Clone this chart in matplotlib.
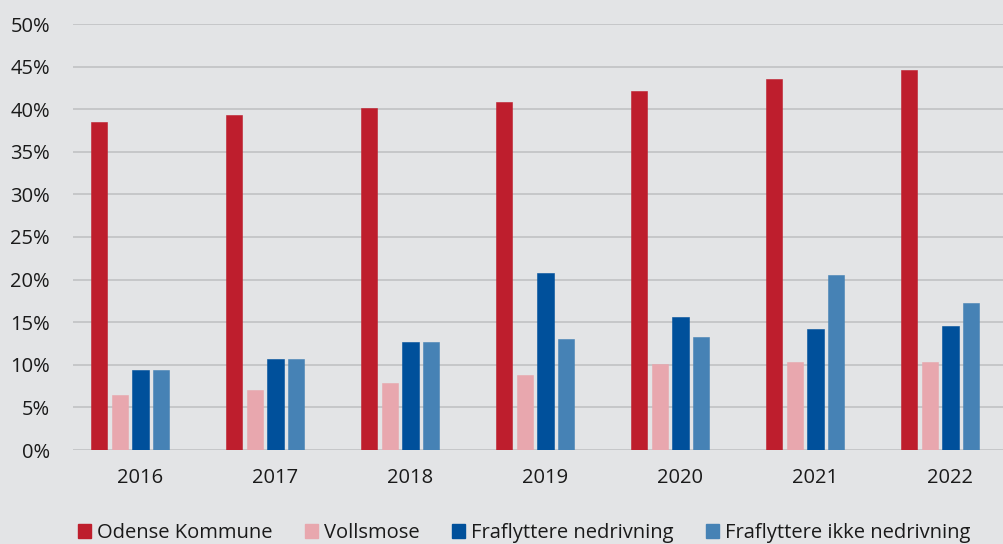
import matplotlib

matplotlib.use("Agg")
import matplotlib.pyplot as plt
import numpy as np
from matplotlib.patches import Patch

plt.rcParams["font.family"] = ["Open Sans", "DejaVu Sans"]

years = ["2016", "2017", "2018", "2019", "2020", "2021", "2022"]
series_names = [
    "Odense Kommune",
    "Vollsmose",
    "Fraflyttere nedrivning",
    "Fraflyttere ikke nedrivning",
]
odense = [38.5, 39.3, 40.1, 40.9, 42.1, 43.5, 44.6]
vollsmose = [6.45, 7.1, 7.9, 8.8, 10.05, 10.35, 10.3]
nedrivning = [9.4, 10.65, 12.7, 20.75, 15.65, 14.25, 14.5]
ikke_nedrivning = [9.4, 10.65, 12.7, 13.05, 13.3, 20.5, 17.2]

colors = ["#be1e2d", "#e8a7ae", "#00509b", "#4682b5"]
bg = "#e3e4e6"
text_color = "#1a1a1a"

fig = plt.figure(figsize=(10.04, 5.44), dpi=100, facecolor=bg)
# axes runs past the right edge of the figure, as in the cropped original
ax = fig.add_axes([73 / 1004, 94 / 544, 945 / 1004, 426 / 544], facecolor=bg)

x = np.arange(len(years))
pitch = 0.1526
width = 0.121
all_series = [odense, vollsmose, nedrivning, ikke_nedrivning]
for i, (vals, col) in enumerate(zip(all_series, colors)):
    ax.bar(x + (i - 2) * pitch, vals, width=width, color=col, edgecolor=col,
           linewidth=0.4, zorder=3)

ax.set_xlim(-0.5, len(years) - 0.5)
ax.set_ylim(0, 50)
ax.set_yticks(np.arange(0, 51, 5))
ax.set_yticklabels([f"{v}%" for v in range(0, 51, 5)])
ax.set_xticks(x)
ax.set_xticklabels(years)

ax.grid(axis="y", color="#c3c4c6", linewidth=1.3, zorder=0)
ax.set_axisbelow(True)
for s in ax.spines.values():
    s.set_visible(False)
ax.tick_params(axis="y", length=0, pad=16.5, labelsize=14.5, colors=text_color)
ax.tick_params(axis="x", length=0, pad=13, labelsize=14.5, colors=text_color)

handles = [Patch(facecolor=c, edgecolor=c) for c in colors]
fig.legend(
    handles,
    series_names,
    loc="center",
    bbox_to_anchor=(0.522, 1 - 533 / 544),
    ncol=4,
    frameon=False,
    fontsize=14.5,
    handlelength=0.65,
    handleheight=0.65,
    handletextpad=0.3,
    columnspacing=1.6,
    labelcolor=text_color,
    borderaxespad=0,
)

fig.savefig("out.png", dpi=100, facecolor=bg)
